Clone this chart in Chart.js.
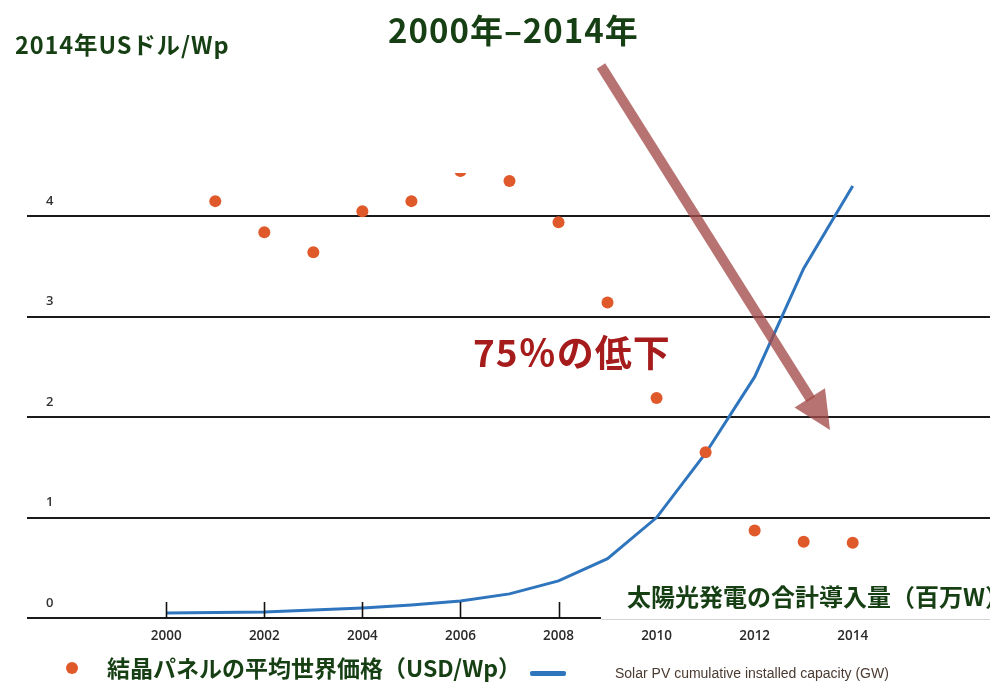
<!DOCTYPE html>
<html>
<head>
<meta charset="utf-8">
<script src="https://cdn.jsdelivr.net/npm/chart.js@4.4.1/dist/chart.umd.min.js"></script>
<style>
  body { margin: 0; background: #fff; overflow: hidden; }
  #wrap { position: relative; width: 990px; height: 682px; overflow: hidden; }
  #wrap canvas { position: absolute; left: 0; top: 0; }
  .txt { position: absolute; white-space: nowrap; line-height: 1; font-family: "Noto Sans CJK JP", "Noto Sans", sans-serif; font-weight: 700; color: #163f14; }
</style>
</head>
<body>
<div id="wrap">
  <canvas id="pv-chart" width="990" height="682"></canvas>
  <div class="txt" style="left:15px; top:33px; font-size:23.5px; letter-spacing:0.9px;">2014年USドル/Wp</div>
  <div class="txt" style="left:388px; top:13px; font-size:33px; letter-spacing:1px;">2000年–2014年</div>
  <div class="txt" style="left:473px; top:333px; font-size:37px; letter-spacing:1px; color:#a61c1c;">75％の低下</div>
  <div class="txt" style="left:627px; top:584px; font-size:24px;">太陽光発電の合計導入量（百万W）</div>
  <div class="txt" style="left:107px; top:656px; font-size:23px;">結晶パネルの平均世界価格（USD/Wp）</div>
  <div style="position:absolute; left:66px; top:662px; width:12px; height:12px; border-radius:6px; background:#e0592a;"></div>
  <div style="position:absolute; left:530px; top:671px; width:36px; height:5px; border-radius:2px; background:#2e75bd;"></div>
  <div class="txt" style="left:615px; top:666px; font-size:14px; font-weight:400; font-family:'Liberation Sans', sans-serif; color:#4a3a30;">Solar PV cumulative installed capacity (GW)</div>
</div>
<script>
//! datos del grafico
const years = [2000, 2001, 2002, 2003, 2004, 2005, 2006, 2007, 2008, 2009, 2010, 2011, 2012, 2013, 2014]
const priceYears = [2001, 2002, 2003, 2004, 2005, 2006, 2007, 2008, 2009, 2010, 2011, 2012, 2013, 2014]
const priceValues = [4.15, 3.84, 3.64, 4.05, 4.15, 4.45, 4.35, 3.94, 3.14, 2.19, 1.65, 0.87, 0.76, 0.75]
const capacityValues = [0.05, 0.055, 0.06, 0.08, 0.10, 0.13, 0.17, 0.24, 0.37, 0.59, 1.0, 1.64, 2.40, 3.48, 4.30]
const xTickLabels = [2000, 2002, 2004, 2006, 2008, 2010, 2012, 2014]
const yTickLabels = [0, 1, 2, 3, 4]

const ctx = document.querySelector('#pv-chart').getContext('2d')

//! ticks hacia arriba, caja blanca bajo la etiqueta y la flecha
const overlayPlugin = {
    id: 'overlay',
    afterDraw(chart) {
        const c = chart.ctx
        const area = chart.chartArea
        const xs = chart.scales.x
        c.save()
        c.strokeStyle = '#111'
        c.lineWidth = 1.6
        xTickLabels.forEach(v => {
            const px = Math.round(xs.getPixelForValue(v)) + 0.5
            c.beginPath()
            c.moveTo(px, area.bottom - 16)
            c.lineTo(px, area.bottom)
            c.stroke()
        })
        // caja blanca
        c.fillStyle = '#fff'
        c.fillRect(601, 574, 389, 48)
        c.strokeStyle = '#d4d4d4'
        c.lineWidth = 1
        c.beginPath()
        c.moveTo(601, 619.5)
        c.lineTo(990, 619.5)
        c.stroke()

        // flecha
        const sx = 601, sy = 66, tx = 830, ty = 430
        const ang = Math.atan2(ty - sy, tx - sx)
        const headLen = 38, headHalf = 18
        const bx = tx - Math.cos(ang) * headLen
        const by = ty - Math.sin(ang) * headLen
        c.fillStyle = 'rgba(163, 76, 74, 0.78)'
        c.strokeStyle = 'rgba(163, 76, 74, 0.78)'
        c.lineWidth = 10
        c.lineCap = 'butt'
        c.beginPath()
        c.moveTo(sx, sy)
        c.lineTo(bx + Math.cos(ang) * 2, by + Math.sin(ang) * 2)
        c.stroke()
        c.beginPath()
        c.moveTo(tx, ty)
        c.lineTo(bx + Math.sin(ang) * headHalf, by - Math.cos(ang) * headHalf)
        c.lineTo(bx - Math.sin(ang) * headHalf, by + Math.cos(ang) * headHalf)
        c.closePath()
        c.fill()
        c.restore()
    }
}

const myChart = new Chart(ctx, {
    type: 'line',
    data: {
        datasets: [
            {
                label: '結晶パネルの平均世界価格（USD/Wp）',
                data: priceYears.map((y, i) => ({ x: y, y: priceValues[i] })),
                showLine: false,
                pointRadius: 6,
                pointHoverRadius: 6,
                pointBorderWidth: 0,
                pointBackgroundColor: '#e0592a',
                clip: 0
            },
            {
                label: 'Solar PV cumulative installed capacity (GW)',
                data: years.map((y, i) => ({ x: y, y: capacityValues[i] })),
                borderColor: '#2e75bd',
                borderWidth: 3,
                pointRadius: 0,
                tension: 0,
                clip: 0
            }
        ]
    },
    options: {
        responsive: false,
        animation: false,
        events: [],
        layout: { autoPadding: false, padding: { left: 27, top: 173, right: 0, bottom: 0 } },
        plugins: { legend: { display: false }, tooltip: { enabled: false } },
        scales: {
            x: {
                type: 'linear',
                min: 1997.16,
                max: 2016.8,
                afterBuildTicks: s => { s.ticks = xTickLabels.map(v => ({ value: v })) },
                afterFit: s => { s.height = 64 },
                grid: { display: false, drawTicks: false },
                border: { display: false },
                ticks: {
                    padding: 10,
                    color: '#2a2a2a',
                    font: { family: 'Open Sans', size: 13.5, weight: '600' },
                    callback: v => String(v)
                }
            },
            y: {
                min: 0,
                max: 4.43,
                afterBuildTicks: s => { s.ticks = yTickLabels.map(v => ({ value: v })) },
                afterFit: s => { s.width = 0 },
                grid: { color: '#1a1a1a', lineWidth: 2, drawTicks: false },
                border: { display: false },
                ticks: {
                    mirror: true,
                    padding: 19,
                    labelOffset: -15,
                    color: '#333',
                    font: { family: 'Open Sans', size: 13, weight: '600' }
                }
            }
        }
    },
    plugins: [overlayPlugin]
})
</script>
</body>
</html>
